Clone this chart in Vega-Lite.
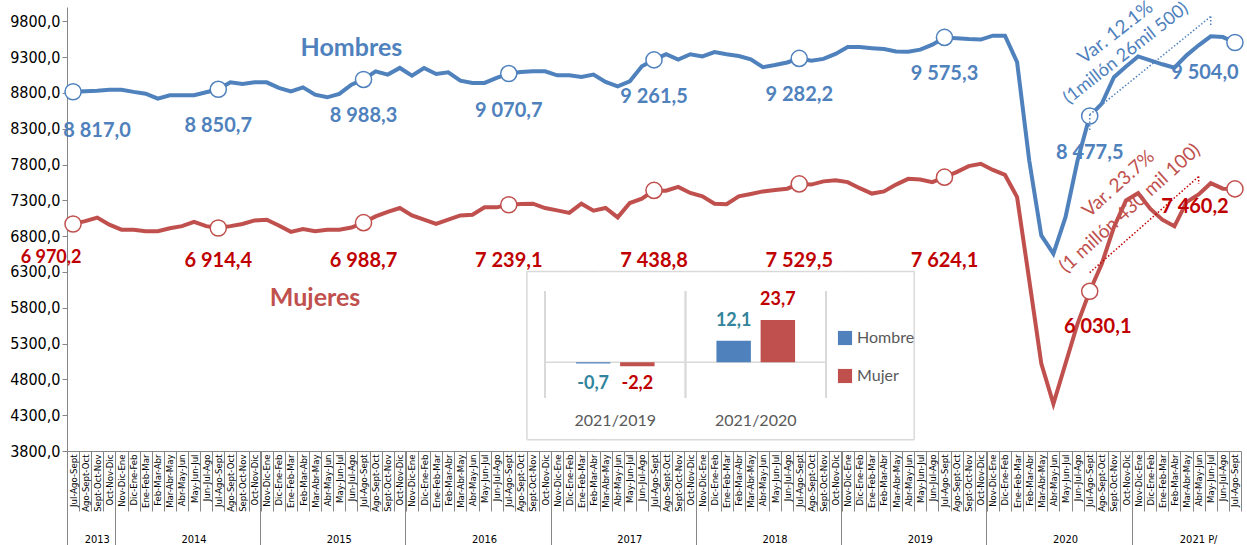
{
  "$schema": "https://vega.github.io/schema/vega-lite/v6.json",
  "width": 1174,
  "height": 444,
  "autosize": {"type": "none"},
  "padding": {"left": 67, "top": 7, "right": 6, "bottom": 94},
  "config": {
    "view": {"stroke": null},
    "font": "Lato",
    "locale": {"number": {"decimal": ",", "thousands": " ", "grouping": [3], "currency": ["", ""], "minus": "-"}}
  },
  "datasets": {
    "serie": [
      {"trimestre": "Jul-Ago-Sept 2013", "Hombres": 8817.0, "Mujeres": 6970.2},
      {"trimestre": "Ago-Sept-Oct 2013", "Hombres": 8825, "Mujeres": 7010},
      {"trimestre": "Sept-Oct-Nov 2013", "Hombres": 8830, "Mujeres": 7060},
      {"trimestre": "Oct-Nov-Dic 2013", "Hombres": 8845, "Mujeres": 6960},
      {"trimestre": "Nov-Dic-Ene 2014", "Hombres": 8845, "Mujeres": 6890},
      {"trimestre": "Dic-Ene-Feb 2014", "Hombres": 8815, "Mujeres": 6890},
      {"trimestre": "Ene-Feb-Mar 2014", "Hombres": 8790, "Mujeres": 6870},
      {"trimestre": "Feb-Mar-Abr 2014", "Hombres": 8720, "Mujeres": 6870},
      {"trimestre": "Mar-Abr-May 2014", "Hombres": 8767, "Mujeres": 6910},
      {"trimestre": "Abr-May-Jun 2014", "Hombres": 8767, "Mujeres": 6940},
      {"trimestre": "May-Jun-Jul 2014", "Hombres": 8767, "Mujeres": 7000},
      {"trimestre": "Jun-Jul-Ago 2014", "Hombres": 8810, "Mujeres": 6940},
      {"trimestre": "Jul-Ago-Sept 2014", "Hombres": 8850.7, "Mujeres": 6914.4},
      {"trimestre": "Ago-Sept-Oct 2014", "Hombres": 8948, "Mujeres": 6940},
      {"trimestre": "Sept-Oct-Nov 2014", "Hombres": 8925, "Mujeres": 6970},
      {"trimestre": "Oct-Nov-Dic 2014", "Hombres": 8948, "Mujeres": 7020},
      {"trimestre": "Nov-Dic-Ene 2015", "Hombres": 8948, "Mujeres": 7030},
      {"trimestre": "Dic-Ene-Feb 2015", "Hombres": 8870, "Mujeres": 6950},
      {"trimestre": "Ene-Feb-Mar 2015", "Hombres": 8822, "Mujeres": 6860},
      {"trimestre": "Feb-Mar-Abr 2015", "Hombres": 8878, "Mujeres": 6900},
      {"trimestre": "Mar-Abr-May 2015", "Hombres": 8776, "Mujeres": 6870},
      {"trimestre": "Abr-May-Jun 2015", "Hombres": 8739, "Mujeres": 6890},
      {"trimestre": "May-Jun-Jul 2015", "Hombres": 8786, "Mujeres": 6890},
      {"trimestre": "Jun-Jul-Ago 2015", "Hombres": 8916, "Mujeres": 6920},
      {"trimestre": "Jul-Ago-Sept 2015", "Hombres": 8988.3, "Mujeres": 6988.7},
      {"trimestre": "Ago-Sept-Oct 2015", "Hombres": 9102, "Mujeres": 7076},
      {"trimestre": "Sept-Oct-Nov 2015", "Hombres": 9056, "Mujeres": 7138},
      {"trimestre": "Oct-Nov-Dic 2015", "Hombres": 9149, "Mujeres": 7193},
      {"trimestre": "Nov-Dic-Ene 2016", "Hombres": 9042, "Mujeres": 7090},
      {"trimestre": "Dic-Ene-Feb 2016", "Hombres": 9149, "Mujeres": 7030},
      {"trimestre": "Ene-Feb-Mar 2016", "Hombres": 9065, "Mujeres": 6970},
      {"trimestre": "Feb-Mar-Abr 2016", "Hombres": 9088, "Mujeres": 7030},
      {"trimestre": "Mar-Abr-May 2016", "Hombres": 8972, "Mujeres": 7090},
      {"trimestre": "Abr-May-Jun 2016", "Hombres": 8940, "Mujeres": 7100},
      {"trimestre": "May-Jun-Jul 2016", "Hombres": 8940, "Mujeres": 7202},
      {"trimestre": "Jun-Jul-Ago 2016", "Hombres": 9010, "Mujeres": 7202},
      {"trimestre": "Jul-Ago-Sept 2016", "Hombres": 9070.7, "Mujeres": 7239.1},
      {"trimestre": "Ago-Sept-Oct 2016", "Hombres": 9093, "Mujeres": 7249},
      {"trimestre": "Sept-Oct-Nov 2016", "Hombres": 9102, "Mujeres": 7253},
      {"trimestre": "Oct-Nov-Dic 2016", "Hombres": 9102, "Mujeres": 7193},
      {"trimestre": "Nov-Dic-Ene 2017", "Hombres": 9046, "Mujeres": 7160},
      {"trimestre": "Dic-Ene-Feb 2017", "Hombres": 9046, "Mujeres": 7124},
      {"trimestre": "Ene-Feb-Mar 2017", "Hombres": 9023, "Mujeres": 7253},
      {"trimestre": "Feb-Mar-Abr 2017", "Hombres": 9056, "Mujeres": 7156},
      {"trimestre": "Mar-Abr-May 2017", "Hombres": 8954, "Mujeres": 7193},
      {"trimestre": "Abr-May-Jun 2017", "Hombres": 8893, "Mujeres": 7062},
      {"trimestre": "May-Jun-Jul 2017", "Hombres": 8962, "Mujeres": 7263},
      {"trimestre": "Jun-Jul-Ago 2017", "Hombres": 9172, "Mujeres": 7323},
      {"trimestre": "Jul-Ago-Sept 2017", "Hombres": 9261.5, "Mujeres": 7438.8},
      {"trimestre": "Ago-Sept-Oct 2017", "Hombres": 9340, "Mujeres": 7435},
      {"trimestre": "Sept-Oct-Nov 2017", "Hombres": 9265, "Mujeres": 7487},
      {"trimestre": "Oct-Nov-Dic 2017", "Hombres": 9340, "Mujeres": 7403},
      {"trimestre": "Nov-Dic-Ene 2018", "Hombres": 9310, "Mujeres": 7356},
      {"trimestre": "Dic-Ene-Feb 2018", "Hombres": 9370, "Mujeres": 7253},
      {"trimestre": "Ene-Feb-Mar 2018", "Hombres": 9340, "Mujeres": 7245},
      {"trimestre": "Feb-Mar-Abr 2018", "Hombres": 9315, "Mujeres": 7356},
      {"trimestre": "Mar-Abr-May 2018", "Hombres": 9270, "Mujeres": 7389},
      {"trimestre": "Abr-May-Jun 2018", "Hombres": 9160, "Mujeres": 7425},
      {"trimestre": "May-Jun-Jul 2018", "Hombres": 9190, "Mujeres": 7445},
      {"trimestre": "Jun-Jul-Ago 2018", "Hombres": 9225, "Mujeres": 7463},
      {"trimestre": "Jul-Ago-Sept 2018", "Hombres": 9282.2, "Mujeres": 7529.5},
      {"trimestre": "Ago-Sept-Oct 2018", "Hombres": 9250, "Mujeres": 7520},
      {"trimestre": "Sept-Oct-Nov 2018", "Hombres": 9275, "Mujeres": 7565},
      {"trimestre": "Oct-Nov-Dic 2018", "Hombres": 9345, "Mujeres": 7580},
      {"trimestre": "Nov-Dic-Ene 2019", "Hombres": 9440, "Mujeres": 7555},
      {"trimestre": "Dic-Ene-Feb 2019", "Hombres": 9440, "Mujeres": 7470},
      {"trimestre": "Ene-Feb-Mar 2019", "Hombres": 9425, "Mujeres": 7395},
      {"trimestre": "Feb-Mar-Abr 2019", "Hombres": 9412, "Mujeres": 7425},
      {"trimestre": "Mar-Abr-May 2019", "Hombres": 9380, "Mujeres": 7520},
      {"trimestre": "Abr-May-Jun 2019", "Hombres": 9376, "Mujeres": 7600},
      {"trimestre": "May-Jun-Jul 2019", "Hombres": 9405, "Mujeres": 7592},
      {"trimestre": "Jun-Jul-Ago 2019", "Hombres": 9475, "Mujeres": 7555},
      {"trimestre": "Jul-Ago-Sept 2019", "Hombres": 9575.3, "Mujeres": 7624.1},
      {"trimestre": "Ago-Sept-Oct 2019", "Hombres": 9565, "Mujeres": 7695},
      {"trimestre": "Sept-Oct-Nov 2019", "Hombres": 9552, "Mujeres": 7778},
      {"trimestre": "Oct-Nov-Dic 2019", "Hombres": 9545, "Mujeres": 7810},
      {"trimestre": "Nov-Dic-Ene 2020", "Hombres": 9600, "Mujeres": 7725},
      {"trimestre": "Dic-Ene-Feb 2020", "Hombres": 9600, "Mujeres": 7655},
      {"trimestre": "Ene-Feb-Mar 2020", "Hombres": 9230, "Mujeres": 7345},
      {"trimestre": "Feb-Mar-Abr 2020", "Hombres": 7860, "Mujeres": 6190},
      {"trimestre": "Mar-Abr-May 2020", "Hombres": 6810, "Mujeres": 5020},
      {"trimestre": "Abr-May-Jun 2020", "Hombres": 6555, "Mujeres": 4460},
      {"trimestre": "May-Jun-Jul 2020", "Hombres": 7065, "Mujeres": 5020},
      {"trimestre": "Jun-Jul-Ago 2020", "Hombres": 7860, "Mujeres": 5580},
      {"trimestre": "Jul-Ago-Sept 2020", "Hombres": 8477.5, "Mujeres": 6030.1},
      {"trimestre": "Ago-Sept-Oct 2020", "Hombres": 8650, "Mujeres": 6415},
      {"trimestre": "Sept-Oct-Nov 2020", "Hombres": 9020, "Mujeres": 6925},
      {"trimestre": "Oct-Nov-Dic 2020", "Hombres": 9170, "Mujeres": 7300},
      {"trimestre": "Nov-Dic-Ene 2021", "Hombres": 9310, "Mujeres": 7400},
      {"trimestre": "Dic-Ene-Feb 2021", "Hombres": 9255, "Mujeres": 7183},
      {"trimestre": "Ene-Feb-Mar 2021", "Hombres": 9200, "Mujeres": 7030},
      {"trimestre": "Feb-Mar-Abr 2021", "Hombres": 9153, "Mujeres": 6937},
      {"trimestre": "Mar-Abr-May 2021", "Hombres": 9325, "Mujeres": 7276},
      {"trimestre": "Abr-May-Jun 2021", "Hombres": 9465, "Mujeres": 7383},
      {"trimestre": "May-Jun-Jul 2021", "Hombres": 9590, "Mujeres": 7540},
      {"trimestre": "Jun-Jul-Ago 2021", "Hombres": 9580, "Mujeres": 7463},
      {"trimestre": "Jul-Ago-Sept 2021", "Hombres": 9504.0, "Mujeres": 7460.2}
    ],
    "variacion": [
      {"comp": "2021/2019", "sexo": "Hombre", "valor": -0.7},
      {"comp": "2021/2019", "sexo": "Mujer", "valor": -2.2},
      {"comp": "2021/2020", "sexo": "Hombre", "valor": 12.1},
      {"comp": "2021/2020", "sexo": "Mujer", "valor": 23.7}
    ]
  },
  "layer": [
    {
      "data": {"name": "serie"},
      "encoding": {
        "x": {
          "field": "trimestre", "type": "ordinal", "sort": null, "title": null,
          "scale": {"type": "band", "paddingInner": 0, "paddingOuter": 0},
          "axis": {
            "labelExpr": "isString(datum.value) ? split(datum.value, ' ')[0] : ''",
            "labelAngle": 270, "labelFontSize": 9.5, "labelFont": "DejaVu Sans Condensed, Roboto, sans-serif",
            "labelColor": "#000000", "labelPadding": -57, "tickBand": "extent",
            "tickColor": "#868686", "domainColor": "#868686", "tickSize": 60,
            "labelOverlap": false, "labelBound": false, "labelFlush": false
          }
        },
        "y": {
          "type": "quantitative", "title": null,
          "scale": {"domain": [3800, 10000]},
          "axis": {
            "values": [3800, 4300, 4800, 5300, 5800, 6300, 6800, 7300, 7800, 8300, 8800, 9300, 9800],
            "format": ".1f", "labelFontSize": 16, "labelFont": "DejaVu Sans Condensed, Roboto, sans-serif",
            "labelColor": "#000000", "tickColor": "#868686", "domainColor": "#868686",
            "tickSize": 5, "labelPadding": 2, "grid": false
          }
        }
      },
      "layer": [
        {
          "mark": {"type": "line", "color": "#4F81BD", "strokeWidth": 4},
          "encoding": {"y": {"field": "Hombres"}}
        },
        {
          "mark": {"type": "line", "color": "#C0504D", "strokeWidth": 4},
          "encoding": {"y": {"field": "Mujeres"}}
        },
        {
          "transform": [{"window": [{"op": "row_number", "as": "n"}]}, {"filter": "datum.n >= 39 && datum.n <= 70"}],
          "mark": {"type": "rect", "fill": null, "stroke": "#D9D9D9", "strokeWidth": 1.5},
          "encoding": {"y": {"datum": 3958}, "y2": {"datum": 3958}}
        },
        {
          "transform": [{"window": [{"op": "row_number", "as": "n"}]}, {"filter": "datum.n >= 39 && datum.n <= 70"}],
          "mark": {"type": "rect", "fill": null, "stroke": "#D9D9D9", "strokeWidth": 1.5},
          "encoding": {"y": {"datum": 6305}, "y2": {"datum": 6305}}
        },
        {
          "transform": [{"window": [{"op": "row_number", "as": "n"}]}, {"filter": "datum.n == 39 || datum.n == 71"}],
          "mark": {"type": "rule", "color": "#D9D9D9", "strokeWidth": 1.5},
          "encoding": {"x": {"field": "trimestre", "type": "ordinal", "sort": null, "bandPosition": 0}, "y": {"datum": 3958}, "y2": {"datum": 6305}}
        },
        {
          "transform": [{"filter": "indexof(datum.trimestre, 'Jul-Ago-Sept') == 0"}],
          "mark": {"type": "point", "shape": "circle", "filled": true, "fill": "white", "stroke": "#4F81BD", "strokeWidth": 1.5, "size": 260, "opacity": 1},
          "encoding": {"y": {"field": "Hombres"}}
        },
        {
          "transform": [{"filter": "indexof(datum.trimestre, 'Jul-Ago-Sept') == 0"}],
          "mark": {"type": "point", "shape": "circle", "filled": true, "fill": "white", "stroke": "#C0504D", "strokeWidth": 1.5, "size": 260, "opacity": 1},
          "encoding": {"y": {"field": "Mujeres"}}
        },
        {
          "transform": [{"filter": "indexof(datum.trimestre, 'Jul-Ago-Sept') == 0 && datum.trimestre != 'Jul-Ago-Sept 2013' && datum.trimestre != 'Jul-Ago-Sept 2021'"}],
          "mark": {"type": "text", "dy": 37, "fontSize": 20, "fontWeight": "bold", "color": "#4F81BD", "baseline": "middle"},
          "encoding": {"y": {"field": "Hombres"}, "text": {"field": "Hombres", "format": ",.1f"}}
        },
        {
          "transform": [{"filter": "datum.trimestre == 'Jul-Ago-Sept 2013'"}],
          "mark": {"type": "text", "dy": 39, "dx": 24, "fontSize": 20, "fontWeight": "bold", "color": "#4F81BD", "baseline": "middle"},
          "encoding": {"y": {"field": "Hombres"}, "text": {"field": "Hombres", "format": ",.1f"}}
        },
        {
          "transform": [{"filter": "datum.trimestre == 'Jul-Ago-Sept 2021'"}],
          "mark": {"type": "text", "dy": 30, "dx": -30, "fontSize": 20, "fontWeight": "bold", "color": "#4F81BD", "baseline": "middle"},
          "encoding": {"y": {"field": "Hombres"}, "text": {"field": "Hombres", "format": ",.1f"}}
        },
        {
          "transform": [{"filter": "indexof(datum.trimestre, 'Jul-Ago-Sept') == 0 && datum.trimestre != 'Jul-Ago-Sept 2013' && datum.trimestre != 'Jul-Ago-Sept 2020' && datum.trimestre != 'Jul-Ago-Sept 2021'"}],
          "mark": {"type": "text", "fontSize": 20, "fontWeight": "bold", "color": "#C00000", "baseline": "middle"},
          "encoding": {"y": {"datum": 6450}, "text": {"field": "Mujeres", "format": ",.1f"}}
        },
        {
          "transform": [{"filter": "datum.trimestre == 'Jul-Ago-Sept 2013'"}],
          "mark": {"type": "text", "dx": -22, "fontSize": 18, "fontWeight": "bold", "color": "#C00000", "baseline": "middle"},
          "encoding": {"y": {"datum": 6495}, "text": {"field": "Mujeres", "format": ",.1f"}}
        },
        {
          "transform": [{"filter": "datum.trimestre == 'Jul-Ago-Sept 2020'"}],
          "mark": {"type": "text", "dy": 36, "dx": 8, "fontSize": 20, "fontWeight": "bold", "color": "#C00000", "baseline": "middle"},
          "encoding": {"y": {"field": "Mujeres"}, "text": {"field": "Mujeres", "format": ",.1f"}}
        },
        {
          "transform": [{"filter": "datum.trimestre == 'Jul-Ago-Sept 2021'"}],
          "mark": {"type": "text", "dy": 18, "dx": -40, "fontSize": 20, "fontWeight": "bold", "color": "#C00000", "baseline": "middle"},
          "encoding": {"y": {"field": "Mujeres"}, "text": {"field": "Mujeres", "format": ",.1f"}}
        },
        {
          "transform": [{"filter": "datum.trimestre == 'Jun-Jul-Ago 2015'"}],
          "mark": {"type": "text", "text": "Hombres", "fontSize": 25, "fontWeight": "bold", "color": "#4F81BD", "baseline": "middle"},
          "encoding": {"y": {"datum": 9434}}
        },
        {
          "transform": [{"filter": "datum.trimestre == 'Mar-Abr-May 2015'"}],
          "mark": {"type": "text", "text": "Mujeres", "fontSize": 25, "fontWeight": "bold", "color": "#C0504D", "baseline": "middle"},
          "encoding": {"y": {"datum": 5942}}
        },
        {
          "transform": [{"filter": "datum.trimestre == 'Sept-Oct-Nov 2020'"}],
          "mark": {"type": "text", "text": "Var. 12.1%", "angle": 322, "dx": 2, "fontSize": 19, "color": "#4F81BD", "baseline": "middle"},
          "encoding": {"y": {"datum": 9630}}
        },
        {
          "transform": [{"filter": "datum.trimestre == 'Oct-Nov-Dic 2020'"}],
          "mark": {"type": "text", "text": "(1millón 26mil 500)", "angle": 322, "fontSize": 18, "color": "#4F81BD", "baseline": "middle"},
          "encoding": {"y": {"datum": 9350}}
        },
        {
          "transform": [{"filter": "datum.trimestre == 'Sept-Oct-Nov 2020'"}],
          "mark": {"type": "text", "text": "Var. 23.7%", "angle": 318, "dx": 6, "fontSize": 19, "color": "#C0504D", "baseline": "middle"},
          "encoding": {"y": {"datum": 7478}}
        },
        {
          "transform": [{"filter": "datum.trimestre == 'Oct-Nov-Dic 2020'"}],
          "mark": {"type": "text", "text": "(1 millón 430 mil 100)", "angle": 318, "dx": 5, "fontSize": 19, "color": "#C0504D", "baseline": "middle"},
          "encoding": {"y": {"datum": 7143}}
        },
        {
          "transform": [{"window": [{"op": "lead", "field": "trimestre", "param": 10, "as": "fin"}]}, {"filter": "datum.trimestre == 'Jul-Ago-Sept 2020'"}],
          "mark": {"type": "rule", "color": "#4F81BD", "strokeDash": [1.5, 2], "strokeWidth": 1.5},
          "encoding": {
            "x2": {"field": "fin"},
            "y": {"datum": 8498}, "y2": {"datum": 9867}
          }
        },
        {
          "transform": [{"filter": "datum.trimestre == 'Jul-Ago-Sept 2020'"}],
          "mark": {"type": "rule", "color": "#4F81BD", "strokeDash": [1.5, 2], "strokeWidth": 1.5},
          "encoding": {"y": {"datum": 8498}, "y2": {"datum": 8270}}
        },
        {
          "transform": [{"filter": "datum.trimestre == 'May-Jun-Jul 2021'"}],
          "mark": {"type": "rule", "color": "#4F81BD", "strokeDash": [1.5, 2], "strokeWidth": 1.5},
          "encoding": {"y": {"datum": 9867}, "y2": {"datum": 9740}}
        },
        {
          "transform": [{"window": [{"op": "lead", "field": "trimestre", "param": 9, "as": "fin"}]}, {"filter": "datum.trimestre == 'Jul-Ago-Sept 2020'"}],
          "mark": {"type": "rule", "color": "#C00000", "strokeDash": [1.5, 2], "strokeWidth": 1.5},
          "encoding": {
            "x2": {"field": "fin"},
            "y": {"datum": 6291}, "y2": {"datum": 7632}
          }
        },
        {
          "transform": [{"filter": "datum.trimestre == 'Abr-May-Jun 2021'"}],
          "mark": {"type": "rule", "color": "#C00000", "strokeDash": [1.5, 2], "strokeWidth": 1.5},
          "encoding": {"y": {"datum": 7632}, "y2": {"datum": 7530}}
        }
      ]
    },
    {
      "data": {"name": "serie"},
      "mark": {"type": "line", "opacity": 0},
      "encoding": {
        "x": {
          "field": "trimestre", "type": "ordinal", "sort": null, "title": null,
          "scale": {"type": "band", "paddingInner": 0, "paddingOuter": 0},
          "axis": {
            "orient": "bottom",
            "values": ["Jul-Ago-Sept 2013", "Nov-Dic-Ene 2014", "Nov-Dic-Ene 2015", "Nov-Dic-Ene 2016", "Nov-Dic-Ene 2017", "Nov-Dic-Ene 2018", "Nov-Dic-Ene 2019", "Nov-Dic-Ene 2020", "Nov-Dic-Ene 2021"],
            "bandPosition": 0, "labels": false, "domain": false,
            "tickSize": 94, "tickColor": "#868686"
          }
        },
        "y": {"field": "Hombres", "type": "quantitative", "axis": null}
      }
    },
    {
      "data": {"name": "serie"},
      "mark": {"type": "line", "opacity": 0},
      "encoding": {
        "x": {
          "field": "trimestre", "type": "ordinal", "sort": null, "title": null,
          "scale": {"type": "band", "paddingInner": 0, "paddingOuter": 0},
          "axis": {
            "orient": "bottom",
            "values": ["Sept-Oct-Nov 2013", "May-Jun-Jul 2014", "May-Jun-Jul 2015", "May-Jun-Jul 2016", "May-Jun-Jul 2017", "May-Jun-Jul 2018", "May-Jun-Jul 2019", "May-Jun-Jul 2020", "Abr-May-Jun 2021"],
            "bandPosition": 0,
            "labelExpr": "split(datum.value, ' ')[1] == '2021' ? '2021 P/' : split(datum.value, ' ')[1]",
            "labelAngle": 0, "ticks": false, "domain": false, "labelPadding": 88,
            "labelFontSize": 11, "labelFont": "DejaVu Sans Condensed, Roboto, sans-serif", "labelColor": "#000000",
            "labelBaseline": "middle"
          }
        },
        "y": {"field": "Hombres", "type": "quantitative", "axis": null}
      }
    },
    {
      "data": {"name": "variacion"},
      "encoding": {
        "x": {
          "field": "comp", "type": "nominal", "title": null, "axis": null,
          "scale": {"type": "band", "range": [478, 759], "paddingInner": 0, "paddingOuter": 0}
        },
        "y": {
          "type": "quantitative", "title": null, "axis": null,
          "scale": {"domain": [-20, 40], "range": [391, 284]}
        }
      },
      "layer": [
        {
          "mark": {"type": "rule", "color": "#D9D9D9", "strokeWidth": 1.5},
          "encoding": {"x": {"datum": "2021/2019", "bandPosition": 0}, "y": {"datum": -20}, "y2": {"datum": 40}}
        },
        {
          "mark": {"type": "rule", "color": "#D9D9D9", "strokeWidth": 1.5},
          "encoding": {"x": {"datum": "2021/2020", "bandPosition": 0}, "y": {"datum": -20}, "y2": {"datum": 40}}
        },
        {
          "mark": {"type": "rule", "color": "#D9D9D9", "strokeWidth": 1.5},
          "encoding": {"x": {"datum": "2021/2020", "bandPosition": 1}, "y": {"datum": -20}, "y2": {"datum": 40}}
        },
        {
          "transform": [{"filter": "datum.sexo == 'Hombre'"}],
          "mark": {"type": "rect", "fill": "white", "stroke": "#D9D9D9", "strokeWidth": 1.5},
          "encoding": {"y": {"datum": 0}, "y2": {"datum": 0}}
        },
        {
          "mark": {"type": "bar"},
          "encoding": {
            "xOffset": {"field": "sexo", "scale": {"paddingInner": 0.22, "paddingOuter": 0.7}},
            "y": {"field": "valor"},
            "color": {
              "field": "sexo", "type": "nominal",
              "scale": {"domain": ["Hombre", "Mujer"], "range": ["#4F81BD", "#C0504D"]},
              "legend": {
                "orient": "none", "legendX": 770, "legendY": 323, "title": null,
                "symbolType": "square", "symbolSize": 200, "symbolStrokeWidth": 0,
                "labelFontSize": 16, "labelColor": "#595959", "labelFont": "Lato",
                "rowPadding": 22, "labelOffset": 4
              }
            }
          }
        },
        {
          "transform": [{"filter": "datum.valor > 0"}],
          "mark": {"type": "text", "dy": -20, "fontSize": 18, "fontWeight": "bold", "baseline": "middle"},
          "encoding": {
            "xOffset": {"field": "sexo", "scale": {"paddingInner": 0.22, "paddingOuter": 0.7}},
            "y": {"field": "valor"},
            "text": {"field": "valor", "format": ".1f"},
            "color": {"condition": {"test": "datum.sexo == 'Hombre'", "value": "#31849B"}, "value": "#C00000"}
          }
        },
        {
          "transform": [{"filter": "datum.valor < 0"}],
          "mark": {"type": "text", "dy": 22, "fontSize": 18, "fontWeight": "bold", "baseline": "middle"},
          "encoding": {
            "xOffset": {"field": "sexo", "scale": {"paddingInner": 0.22, "paddingOuter": 0.7}},
            "y": {"datum": 0},
            "text": {"field": "valor", "format": ".1f"},
            "color": {"condition": {"test": "datum.sexo == 'Hombre'", "value": "#31849B"}, "value": "#C00000"}
          }
        },
        {
          "transform": [{"filter": "datum.sexo == 'Hombre'"}],
          "mark": {"type": "text", "dy": 23, "fontSize": 16, "color": "#595959", "baseline": "middle"},
          "encoding": {"y": {"datum": -20}, "text": {"field": "comp"}}
        }
      ]
    }
  ],
  "resolve": {
    "scale": {"x": "independent", "y": "independent", "color": "independent"},
    "axis": {"x": "independent", "y": "independent"}
  }
}
